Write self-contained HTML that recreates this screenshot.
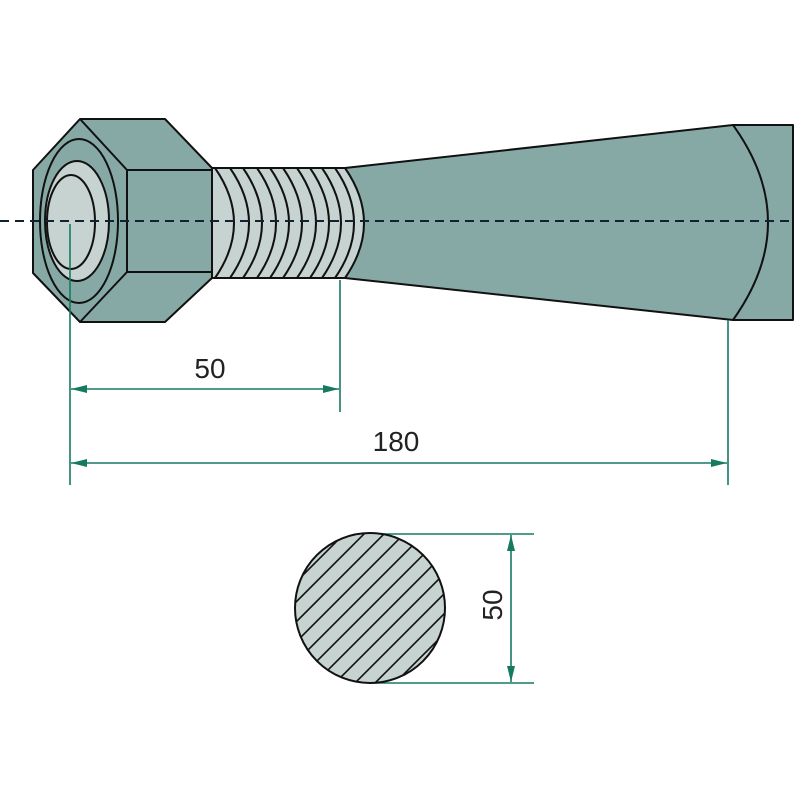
<!DOCTYPE html>
<html><head><meta charset="utf-8"><style>html,body{margin:0;padding:0;background:#fff;overflow:hidden;width:800px;height:800px}svg{display:block}</style></head>
<body>
<svg width="800" height="800" viewBox="0 0 800 800" xmlns="http://www.w3.org/2000/svg">
<defs>
<marker id="a" viewBox="0 0 16 8" refX="16" refY="4" markerWidth="16" markerHeight="8" markerUnits="userSpaceOnUse" orient="auto-start-reverse"><path d="M0,0 L16,4 L0,8 Z" fill="#167a63"/></marker>
<clipPath id="cc"><circle cx="370" cy="608" r="75"/></clipPath>
</defs>
<g stroke="#111" stroke-width="2" stroke-linejoin="round">
<path d="M345,168 L733,125 L793,125 L793,320 L733,320 L345,278 Z" fill="#87a9a6"/>
<path d="M733,125 Q803,222 733,320" fill="none"/>
<path d="M212,168 L345,168 Q383,223 345,278 L212,278 Z" fill="#c6d3d0"/>
<g fill="none">
<path d="M215,168 Q253,223 215,278"/><path d="M230,168 Q268,223 230,278"/><path d="M243,168 Q281,223 243,278"/>
<path d="M257,168 Q295,223 257,278"/><path d="M270,168 Q308,223 270,278"/><path d="M283,168 Q321,223 283,278"/>
<path d="M297,168 Q335,223 297,278"/><path d="M310,168 Q348,223 310,278"/><path d="M322,168 Q360,223 322,278"/>
<path d="M335,168 Q373,223 335,278"/>
</g>
<path d="M33,170 L80,119 L165,119 L212,168 L212,278 L165,322 L80,322 L33,273 Z" fill="#87a9a6"/>
<path d="M80,119 L127,170 L212,170 M127,170 L127,272 M212,272 L127,272 L80,322" fill="none"/>
<ellipse cx="79" cy="221" rx="39" ry="82" fill="#87a9a6"/>
<ellipse cx="77" cy="221" rx="32" ry="60" fill="#c6d3d0"/>
<ellipse cx="71" cy="222" rx="24" ry="47" fill="#c6d3d0"/>
</g>
<line x1="0" y1="221" x2="795" y2="221" stroke="#123" stroke-width="2" stroke-dasharray="9,6"/>
<g stroke="#167a63" stroke-width="1.6" fill="none">
<line x1="70" y1="224" x2="70" y2="485"/>
<line x1="340" y1="280" x2="340" y2="412"/>
<line x1="728" y1="320" x2="728" y2="485"/>
<line x1="71" y1="389" x2="339" y2="389" marker-start="url(#a)" marker-end="url(#a)"/>
<line x1="71" y1="463" x2="727" y2="463" marker-start="url(#a)" marker-end="url(#a)"/>
<line x1="370" y1="534" x2="534" y2="534"/>
<line x1="370" y1="683" x2="534" y2="683"/>
<line x1="511" y1="535" x2="511" y2="682" marker-start="url(#a)" marker-end="url(#a)"/>
</g>
<circle cx="370" cy="608" r="75" fill="#c6d3d0"/>
<g clip-path="url(#cc)" stroke="#111" stroke-width="1.6">
<line x1="295" y1="583" x2="445" y2="433"/>
<line x1="295" y1="603" x2="445" y2="453"/>
<line x1="295" y1="623" x2="445" y2="473"/>
<line x1="295" y1="643" x2="445" y2="493"/>
<line x1="295" y1="663" x2="445" y2="513"/>
<line x1="295" y1="683" x2="445" y2="533"/>
<line x1="295" y1="703" x2="445" y2="553"/>
<line x1="295" y1="723" x2="445" y2="573"/>
<line x1="295" y1="743" x2="445" y2="593"/>
<line x1="295" y1="763" x2="445" y2="613"/>
<line x1="295" y1="783" x2="445" y2="633"/>
</g>
<circle cx="370" cy="608" r="75" fill="none" stroke="#111" stroke-width="2"/>
<g font-family="Liberation Sans, sans-serif" font-size="28" fill="#222" text-anchor="middle">
<text x="210" y="378">50</text>
<text x="396" y="451">180</text>
<text transform="translate(502,605) rotate(-90)">50</text>
</g>
</svg>
</body></html>
